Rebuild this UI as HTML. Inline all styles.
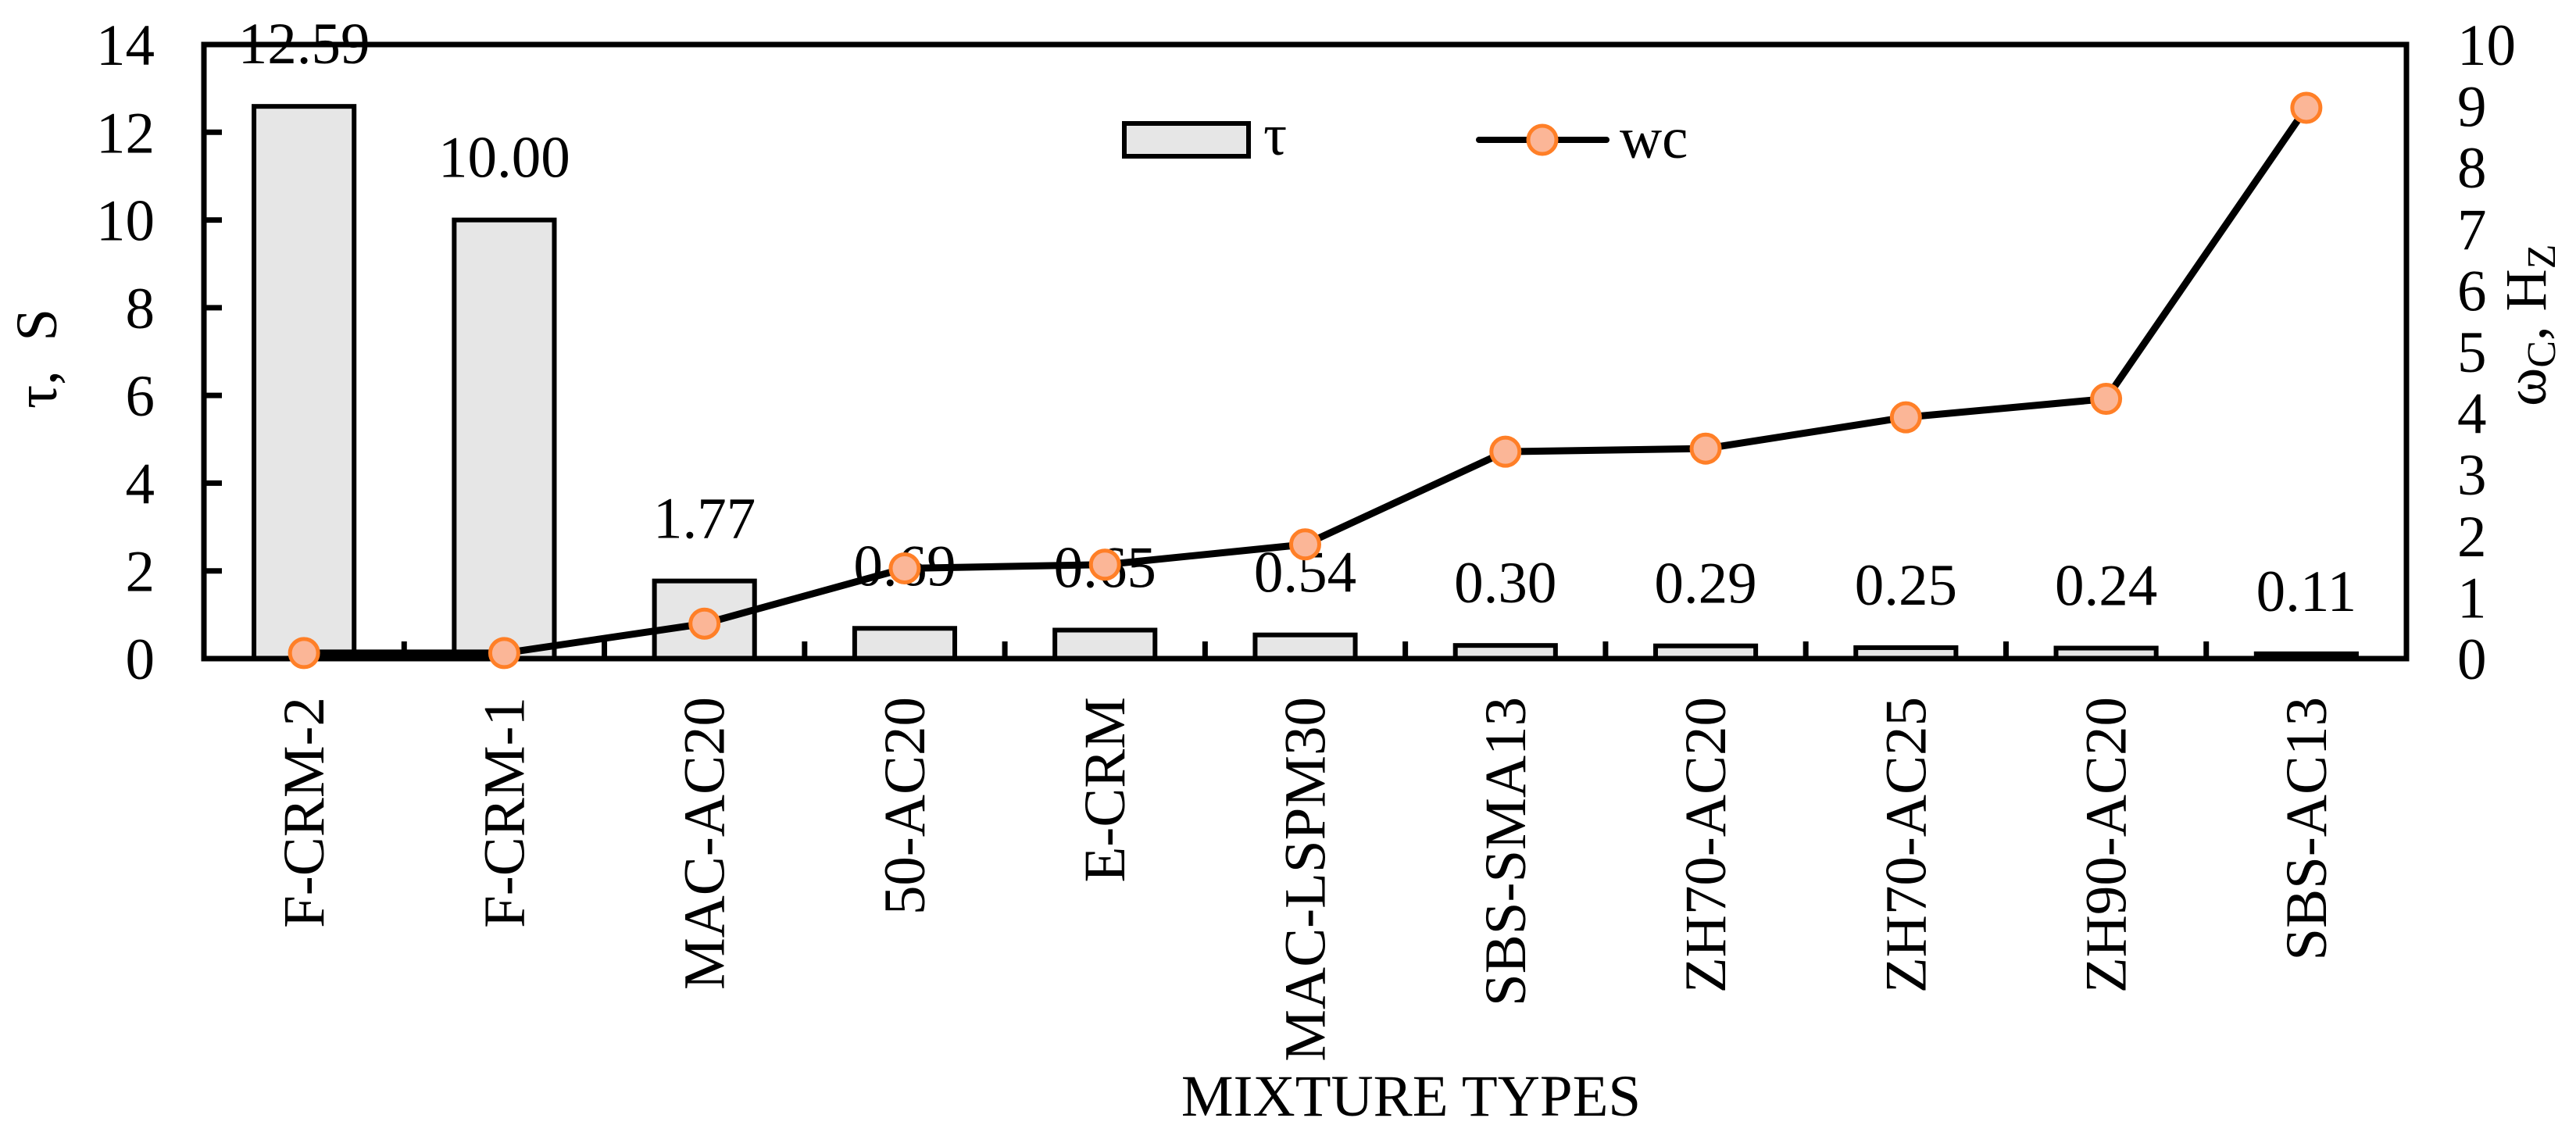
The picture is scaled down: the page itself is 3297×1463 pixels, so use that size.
<!DOCTYPE html>
<html><head><meta charset="utf-8">
<style>
html,body{margin:0;padding:0;background:#fff;}
svg{display:block;}
text{font-family:"Liberation Serif","DejaVu Serif",serif;fill:#000;}
</style></head>
<body>
<svg id="chart" width="3297" height="1463" viewBox="0 0 3297 1463" xmlns="http://www.w3.org/2000/svg">
  <g id="bars"></g>
  <g id="barlabels"></g>
  <g id="axes"></g>
  <g id="line"></g>
  <g id="xlabels"></g>
  <g id="ylabels"></g>
  <g id="y2labels"></g>

  <text transform="translate(72,523) rotate(-90)" font-size="75" style="white-space:pre">τ,  S</text>
  <text transform="translate(3258,520) rotate(-90)" font-size="75" style="white-space:pre">ω<tspan font-size="52" dy="12">C</tspan><tspan dy="-12">, H</tspan><tspan font-size="52" dy="12">Z</tspan></text>
  <text x="1806" y="1428" font-size="75" text-anchor="middle">MIXTURE TYPES</text>

  <g>
    <rect x="1439" y="158" width="159" height="42" fill="#e6e6e6" stroke="#000" stroke-width="6"/>
    <text x="1617" y="198" font-size="75">τ</text>
    <line x1="1893" y1="179" x2="2056" y2="179" stroke="#000" stroke-width="8" stroke-linecap="round"/>
    <circle cx="1974" cy="179" r="18" fill="#fbb697" stroke="#ff7f27" stroke-width="5"/>
    <text x="2073" y="202" font-size="75">wc</text>
  </g>
</svg>
<script>
const categories = ["F-CRM-2","F-CRM-1","MAC-AC20","50-AC20","E-CRM","MAC-LSPM30","SBS-SMA13","ZH70-AC20","ZH70-AC25","ZH90-AC20","SBS-AC13"];
const tauValues = [12.59,10.00,1.77,0.69,0.65,0.54,0.30,0.29,0.25,0.24,0.11];
const tauLabels = ["12.59","10.00","1.77","0.69","0.65","0.54","0.30","0.29","0.25","0.24","0.11"];
const wcValues = [0.09,0.09,0.57,1.47,1.53,1.86,3.37,3.42,3.93,4.23,8.97];
const yTicks = [0,2,4,6,8,10,12,14];
const y2Ticks = [0,1,2,3,4,5,6,7,8,9,10];

const NS = "http://www.w3.org/2000/svg";
const L = 261, R = 3080, T = 57, B = 843;
const yMax = 14, y2Max = 10;
const bandW = (R - L) / categories.length;
function xCenter(i){ return L + bandW * (i + 0.5); }
function yScale(v){ return B - v / yMax * (B - T); }
function y2Scale(v){ return B - v / y2Max * (B - T); }
function mk(tag, attrs, parent){
  const e = document.createElementNS(NS, tag);
  for (const k in attrs) e.setAttribute(k, attrs[k]);
  parent.appendChild(e);
  return e;
}
const gBars = document.getElementById('bars');
const gBL = document.getElementById('barlabels');
const gAx = document.getElementById('axes');
const gLine = document.getElementById('line');
const gXL = document.getElementById('xlabels');
const gYL = document.getElementById('ylabels');
const gY2L = document.getElementById('y2labels');

const bw = bandW * 0.5;
tauValues.forEach((v, i) => {
  const y = yScale(v);
  const r = mk('rect', {x: xCenter(i) - bw/2, y: y, width: bw, height: B - y, fill: '#e6e6e6', stroke: '#000', 'stroke-width': 6}, gBars);
  
  
  const t = mk('text', {x: xCenter(i), y: y - 55, 'font-size': 75, 'text-anchor': 'middle'}, gBL);
  t.textContent = tauLabels[i];
  
  
});

const frame = mk('rect', {x: L, y: T, width: R - L, height: B - T, fill: 'none', stroke: '#000', 'stroke-width': 7}, gAx);


yTicks.forEach(v => {
  const y = yScale(v);
  const tk = mk('line', {x1: L, y1: y, x2: L + 23, y2: y, stroke: '#000', 'stroke-width': 7}, gAx);
  
  
  const t = mk('text', {x: 198, y: y + 26, 'font-size': 75, 'text-anchor': 'end'}, gYL);
  t.textContent = String(v);
  
  
});
y2Ticks.forEach(v => {
  const y = y2Scale(v);
  const t = mk('text', {x: 3145, y: y + 26, 'font-size': 75, 'text-anchor': 'start'}, gY2L);
  t.textContent = String(v);
  
  
});
for (let i = 1; i < categories.length; i++) {
  const x = L + bandW * i;
  const tk = mk('line', {x1: x, y1: B, x2: x, y2: B - 22, stroke: '#000', 'stroke-width': 7}, gAx);
  
  
}
categories.forEach((c, i) => {
  const t = mk('text', {transform: 'translate(' + (xCenter(i) + 25) + ',892) rotate(-90)', 'font-size': 75, 'text-anchor': 'end'}, gXL);
  t.textContent = c;
  
  
});

const pts = wcValues.map((v, i) => xCenter(i) + ',' + y2Scale(v)).join(' ');
const pl = mk('polyline', {points: pts, fill: 'none', stroke: '#000', 'stroke-width': 9, 'stroke-linejoin': 'round'}, gLine);


wcValues.forEach((v, i) => {
  const c = mk('circle', {cx: xCenter(i), cy: y2Scale(v), r: 18, fill: '#fbb697', stroke: '#ff7f27', 'stroke-width': 5}, gLine);
  
  
});
</script>
</body></html>
